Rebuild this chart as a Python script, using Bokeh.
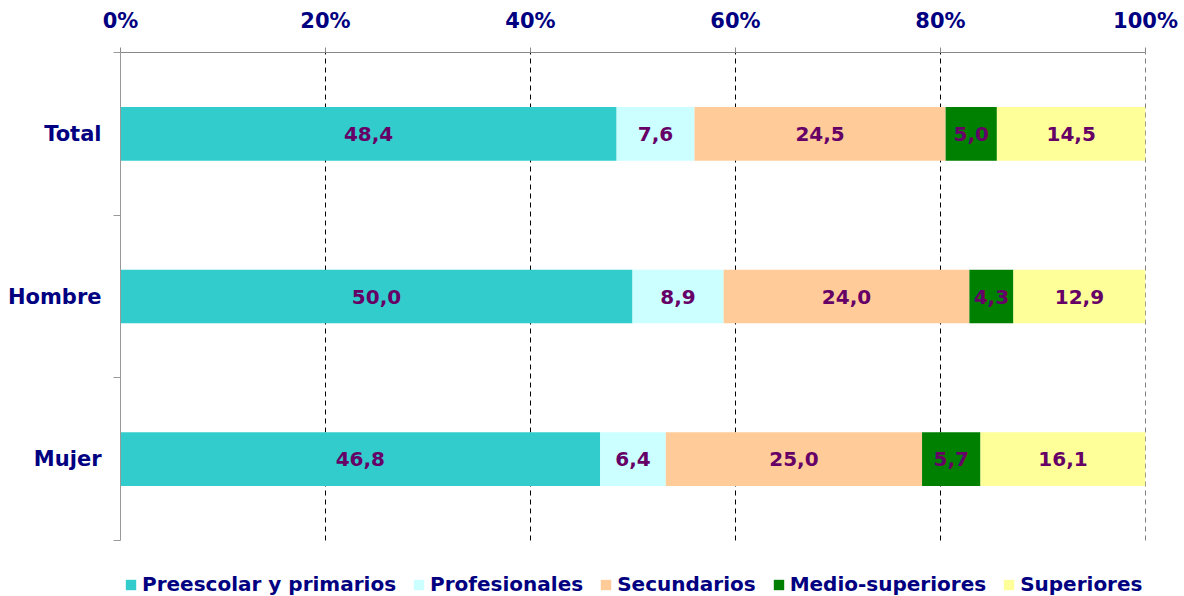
import numpy as np
from bokeh.plotting import figure
from bokeh.models import (ColumnDataSource, FixedTicker, PrintfTickFormatter,
                          LinearAxis, Legend, Range1d)
from bokeh.core.properties import value
from bokeh.embed import file_html
from bokeh.resources import INLINE

categories = ["Total", "Hombre", "Mujer"]
series = ["Preescolar y primarios", "Profesionales", "Secundarios",
          "Medio-superiores", "Superiores"]
preescolar = [48.4, 50.0, 46.8]
profesionales = [7.6, 8.9, 6.4]
secundarios = [24.5, 24.0, 25.0]
medio_superiores = [5.0, 4.3, 5.7]
superiores = [14.5, 12.9, 16.1]
x_ticks = [0, 20, 40, 60, 80, 100]

colors = ["#33CCCC", "#CCFFFF", "#FFCC99", "#008000", "#FFFF99"]
FONT = "DejaVu Sans"
NAVY = "#000080"
LABEL = "#660066"

raw = np.array([preescolar, profesionales, secundarios, medio_superiores, superiores])
norm = raw / raw.sum(axis=0) * 100.0
n = len(categories)
ypos = [n - i - 0.5 for i in range(n)]

keys = ["s%d" % i for i in range(len(series))]
data = {"y": ypos}
for k, row in zip(keys, norm):
    data[k] = list(row)
source = ColumnDataSource(data)

# plot area: categories fill 488 px, legend strip of 56 px below inside the frame
W, H, TOP, BAND, LEFT, RIGHT = 1184, 596, 52, 488, 120, 39
extra = n * (H - TOP - BAND) / BAND

p = figure(width=W, height=H, output_backend="svg", toolbar_location=None,
           x_range=Range1d(0, 100), y_range=Range1d(-extra, n),
           x_axis_location=None, y_axis_location=None,
           min_border_left=LEFT, min_border_right=RIGHT, min_border_top=TOP,
           min_border_bottom=0)
p.outline_line_color = None
p.background_fill_color = "white"
p.xgrid.grid_line_color = None
p.ygrid.grid_line_color = None

# dashed vertical grid lines spanning the category band only
gx = [t for t in x_ticks if t > 0]
p.segment(x0=gx, x1=gx, y0=[0] * len(gx), y1=[n] * len(gx),
          line_color="black", line_dash="5 4", line_width=1)

renderers = p.hbar_stack(keys, y="y", height=0.33, color=colors, source=source,
                         line_color=None)

# value labels
cum = np.cumsum(norm, axis=0)
mid = cum - norm / 2.0
lx, ly, lt = [], [], []
for s in range(len(series)):
    for c in range(n):
        lx.append(mid[s, c])
        ly.append(ypos[c])
        lt.append(("%.1f" % raw[s, c]).replace(".", ","))
p.text(x=lx, y=ly, text=lt, text_align="center", text_baseline="middle",
       text_font=value(FONT), text_font_style="bold", text_font_size="20px",
       text_color=LABEL)

# top axis
xa = LinearAxis(ticker=FixedTicker(ticks=x_ticks),
                formatter=PrintfTickFormatter(format="%d%%"))
xa.axis_line_color = "#888888"
xa.major_tick_line_color = "#888888"
xa.major_tick_out = 5
xa.major_tick_in = 0
xa.minor_tick_line_color = None
xa.minor_tick_out = 0
xa.major_label_standoff = 15
xa.major_label_text_font = FONT
xa.major_label_text_font_style = "bold"
xa.major_label_text_font_size = "21px"
xa.major_label_text_color = NAVY
p.add_layout(xa, "above")

# left axis with boundary ticks, limited to the category band
ya = LinearAxis(ticker=FixedTicker(ticks=ypos, minor_ticks=list(range(n + 1))),
                bounds=(0, n))
ya.major_label_overrides = {yv: c for yv, c in zip(ypos, categories)}
ya.axis_line_color = "#999999"
ya.major_tick_line_color = None
ya.major_tick_out = 0
ya.major_tick_in = 0
ya.minor_tick_line_color = "#999999"
ya.minor_tick_out = 7
ya.minor_tick_in = 0
ya.major_label_standoff = 12
ya.major_label_text_font = FONT
ya.major_label_text_font_style = "bold"
ya.major_label_text_font_size = "21px"
ya.major_label_text_color = NAVY
p.add_layout(ya, "left")

legend = Legend(items=[(s, [r]) for s, r in zip(series, renderers)],
                orientation="horizontal", location=(4, 0))
legend.border_line_color = None
legend.background_fill_alpha = 0
legend.padding = 0
legend.margin = 0
legend.spacing = 16
legend.label_standoff = 5
legend.glyph_width = 13
legend.glyph_height = 13
legend.label_height = 20
legend.label_text_font = FONT
legend.label_text_font_style = "bold"
legend.label_text_font_size = "20px"
legend.label_text_color = NAVY
p.add_layout(legend, "center")

open("out.html", "w").write(file_html(p, INLINE))
